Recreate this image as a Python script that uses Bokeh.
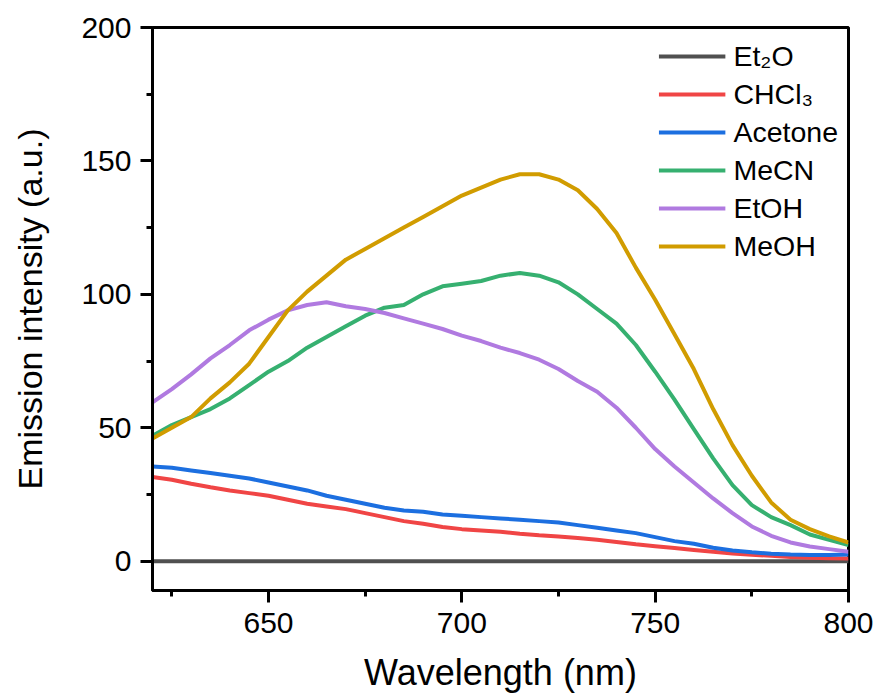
from bokeh.plotting import figure
from bokeh.models import Range1d, SingleIntervalTicker, Legend, LegendItem
from bokeh.embed import file_html
from bokeh.resources import INLINE

wavelength = [620, 625, 630, 635, 640, 645, 650, 655, 660, 665, 670, 675, 680, 685, 690, 695,
              700, 705, 710, 715, 720, 725, 730, 735, 740, 745, 750, 755, 760, 765, 770, 775,
              780, 785, 790, 795, 800]

et2o = [0.0] * 37
chcl3 = [31.5, 30.5, 29, 27.7, 26.5, 25.5, 24.5, 23, 21.5, 20.5, 19.5, 18, 16.5, 15, 14, 12.8,
         12, 11.5, 11, 10.3, 9.7, 9.2, 8.7, 8, 7.2, 6.3, 5.6, 4.9, 4.2, 3.5, 2.9, 2.4,
         2, 1.6, 1.3, 1.1, 1]
acetone = [35.5, 35, 34, 33, 32, 31, 29.5, 28, 26.5, 24.5, 23, 21.5, 20, 19, 18.5, 17.5,
           17, 16.5, 16, 15.5, 15, 14.5, 13.5, 12.5, 11.5, 10.5, 9, 7.5, 6.5, 5, 4, 3.3,
           2.8, 2.5, 2.3, 2.3, 2.5]
mecn = [47, 51, 54, 57, 61, 66, 71, 75, 80, 84, 88, 92, 95, 96, 100, 103,
        104, 105, 107, 108, 107, 104.5, 100, 94.5, 89, 81, 71, 60.5, 49.5, 38.5, 28.5, 21,
        16.5, 13.5, 10, 8, 6]
etoh = [59.5, 64.5, 70, 76, 81, 86.5, 90.5, 94, 96, 97, 95.5, 94.5, 93, 91, 89, 87,
        84.5, 82.5, 80, 78, 75.5, 72, 67.5, 63.5, 57.5, 50, 42, 35.5, 29.5, 23.5, 18, 13,
        9.5, 7, 5.5, 4.5, 3.5]
meoh = [46, 50, 54, 61, 67, 74, 84, 94, 101, 107, 113, 117, 121, 125, 129, 133,
        137, 140, 143, 145, 145, 143, 139, 132, 123, 110, 98, 85, 72, 57, 43.5, 32,
        22, 15.5, 12, 9.3, 7]

labels = ["Et\u2082O", "CHCl\u2083", "Acetone", "MeCN", "EtOH", "MeOH"]
series = [et2o, chcl3, acetone, mecn, etoh, meoh]
colors = ["#505050", "#f04545", "#1c6fe0", "#36b070", "#b07ae0", "#d19c00"]

FONT = "Liberation Sans"

p = figure(width=875, height=697, output_backend="svg", toolbar_location=None,
           x_range=Range1d(620, 800), y_range=Range1d(-11, 200),
           min_border_left=152, min_border_right=27, min_border_top=27, min_border_bottom=107,
           frame_width=696, frame_height=563)

items = []
for lab, ys, col in zip(labels, series, colors):
    r = p.line(wavelength, ys, line_color=col, line_width=4)
    items.append(LegendItem(label=lab, renderers=[r]))

p.xgrid.visible = False
p.ygrid.visible = False
p.outline_line_color = "black"
p.outline_line_width = 3

p.xaxis.ticker = SingleIntervalTicker(interval=50, num_minor_ticks=2)
p.yaxis.ticker = SingleIntervalTicker(interval=50, num_minor_ticks=2)

for ax in (p.xaxis[0], p.yaxis[0]):
    ax.axis_line_width = 3
    ax.axis_line_color = "black"
    ax.major_tick_line_width = 3
    ax.minor_tick_line_width = 3
    ax.major_tick_out = 12
    ax.major_tick_in = 0
    ax.minor_tick_out = 6
    ax.minor_tick_in = 0
    ax.major_label_text_font = FONT
    ax.major_label_text_font_size = "30px"
    ax.major_label_text_color = "black"
    ax.axis_label_text_font = FONT
    ax.axis_label_text_font_style = "normal"
    ax.axis_label_text_color = "black"

p.xaxis.major_label_standoff = 10
p.yaxis.major_label_standoff = 9
p.xaxis.axis_label = "Wavelength (nm)"
p.yaxis.axis_label = "Emission intensity (a.u.)"
p.xaxis.axis_label_text_font_size = "36px"
p.yaxis.axis_label_text_font_size = "34px"
p.xaxis.axis_label_standoff = 16
p.yaxis.axis_label_standoff = 29

legend = Legend(items=items, location="top_right", border_line_color=None,
                background_fill_alpha=0, label_text_font=FONT, label_text_font_size="28.5px",
                label_text_color="black",
                glyph_width=67, glyph_height=38, label_height=38, label_standoff=8,
                spacing=0, padding=10, margin=10)
p.add_layout(legend)

open("out.html", "w").write(file_html(p, INLINE))
